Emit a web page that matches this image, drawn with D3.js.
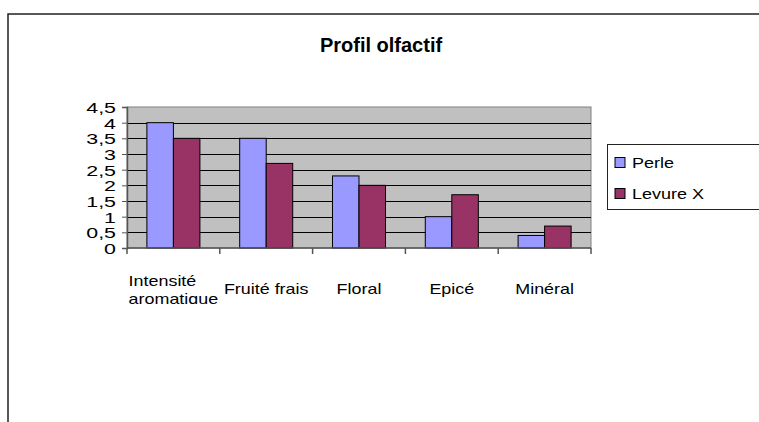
<!DOCTYPE html>
<html>
<head>
<meta charset="utf-8">
<script src="https://cdn.jsdelivr.net/npm/d3@7"></script>
<style>
  body { margin: 0; background: #fff; }
  svg text { font-family: "Liberation Sans", Arial, sans-serif; fill: #000; }
</style>
</head>
<body>
<svg id="chart" width="759" height="422"></svg>
<script>
    var categories = [["Intensité", "aromatique"], ["Fruité frais"], ["Floral"], ["Epicé"], ["Minéral"]];
    var seriesNames = ["Perle", "Levure X"];
    var perle = [4, 3.5, 2.3, 1, 0.4];
    var levure = [3.5, 2.7, 2, 1.7, 0.7];
    var yTicks = [0, 0.5, 1, 1.5, 2, 2.5, 3, 3.5, 4, 4.5];
    var colors = ["#9999FF", "#993366"];

    var svg = d3.select("#chart");
    var plot = {left: 127, top: 107, right: 591, bottom: 248};

    // outer chart frame (runs off the right and bottom of the window)
    svg.append("path")
        .attr("d", "M8,430 L8,14 L770,14")
        .attr("fill", "none")
        .attr("stroke", "#222")
        .attr("stroke-width", 1.5);

    svg.append("text")
        .attr("x", 381).attr("y", 52)
        .attr("text-anchor", "middle")
        .style("font-size", "20px")
        .style("font-weight", "bold")
        .text("Profil olfactif");

    var x = d3.scaleBand()
        .domain(d3.range(categories.length))
        .range([plot.left, plot.right]);

    var y = d3.scaleLinear()
        .domain([0, 4.5])
        .range([plot.bottom, plot.top]);

    // grey plot background
    svg.append("rect")
        .attr("x", plot.left).attr("y", plot.top)
        .attr("width", plot.right - plot.left)
        .attr("height", plot.bottom - plot.top)
        .attr("fill", "#C0C0C0")
        .attr("stroke", "#808080")
        .attr("stroke-width", 1);

    // gridlines
    svg.append("g")
        .selectAll("line")
        .data(yTicks.filter(function(d){ return d > 0 && d < 4.5; }))
        .enter().append("line")
        .attr("x1", plot.left).attr("x2", plot.right)
        .attr("y1", function(d){ return Math.round(y(d)) + 0.5; })
        .attr("y2", function(d){ return Math.round(y(d)) + 0.5; })
        .attr("stroke", "#000")
        .attr("stroke-width", 1);

    // bars, gap width 150%
    var barW = x.bandwidth() / 3.5;
    var series = [perle, levure];
    series.forEach(function(vals, s){
        svg.append("g")
            .selectAll("rect")
            .data(vals)
            .enter().append("rect")
            .attr("x", function(d, i){ return x(i) + barW * 0.75 + s * barW; })
            .attr("y", function(d){ return y(d); })
            .attr("width", barW)
            .attr("height", function(d){ return y(0) - y(d); })
            .attr("fill", colors[s])
            .attr("stroke", "#000")
            .attr("stroke-width", 1);
    });

    // y axis
    var yAxis = svg.append("g")
        .attr("transform", "translate(" + plot.left + ",0)")
        .call(d3.axisLeft(y).tickValues(yTicks).tickSize(5).tickFormat(function(d){
            return String(d).replace(".", ",");
        }));
    yAxis.select(".domain").attr("stroke", "#555").attr("stroke-width", 1.5);
    yAxis.selectAll(".tick line").attr("stroke", "#555");
    yAxis.selectAll(".tick text").each(function(){
        var t = d3.select(this);
        t.attr("x", null).attr("dy", null)
         .attr("transform", "translate(-11,5.5) scale(1.38,1)")
         .style("font-size", "15.5px")
         .style("font-family", "'Liberation Sans', Arial, sans-serif");
    });

    // x axis: ticks on category boundaries
    var xAxisG = svg.append("g");
    xAxisG.append("line")
        .attr("x1", plot.left).attr("x2", plot.right)
        .attr("y1", plot.bottom).attr("y2", plot.bottom)
        .attr("stroke", "#555").attr("stroke-width", 1.5);
    xAxisG.selectAll("line.tk")
        .data(d3.range(categories.length + 1))
        .enter().append("line")
        .attr("class", "tk")
        .attr("x1", function(i){ return plot.left + i * x.step(); })
        .attr("x2", function(i){ return plot.left + i * x.step(); })
        .attr("y1", plot.bottom).attr("y2", plot.bottom + 6)
        .attr("stroke", "#555").attr("stroke-width", 1.5);

    // the long label is cut off at the bottom in the original
    svg.append("clipPath").attr("id", "lblclip")
        .append("rect").attr("x", 0).attr("y", 0).attr("width", 759).attr("height", 304);

    var labels = svg.append("g").attr("clip-path", "url(#lblclip)")
        .selectAll("g")
        .data(categories)
        .enter().append("g")
        .attr("transform", function(d, i){
            return "translate(" + (x(i) + x.bandwidth() / 2) + "," + (d.length > 1 ? 285.5 : 293.5) + ") scale(1.28,1)";
        });
    labels.each(function(d){
        var g = d3.select(this);
        var multi = d.length > 1;
        var texts = g.selectAll("text")
            .data(d)
            .enter().append("text")
            .attr("y", function(t, j){ return j * 18.5; })
            .attr("text-anchor", multi ? "start" : "middle")
            .style("font-size", "14px")
            .text(function(t){ return t; });
        if(multi){
            // wrapped lines sit left-aligned inside a centred block
            var w = d3.max(texts.nodes(), function(n){ return n.getComputedTextLength(); });
            texts.attr("x", -w / 2);
        }
    });

    // legend
    var legend = svg.append("g");
    legend.append("rect")
        .attr("x", 607.5).attr("y", 144.5)
        .attr("width", 170).attr("height", 65)
        .attr("fill", "#fff")
        .attr("stroke", "#222").attr("stroke-width", 1);
    var items = legend.selectAll("g.item")
        .data(seriesNames)
        .enter().append("g")
        .attr("class", "item")
        .attr("transform", function(d, i){ return "translate(615," + (157.5 + i * 31) + ")"; });
    items.append("rect")
        .attr("width", 10).attr("height", 10)
        .attr("fill", function(d, i){ return colors[i]; })
        .attr("stroke", "#000").attr("stroke-width", 1);
    items.append("text")
        .attr("transform", "translate(17,10) scale(1.2,1)")
        .style("font-size", "15px")
        .text(function(d){ return d; });
</script>
</body>
</html>
